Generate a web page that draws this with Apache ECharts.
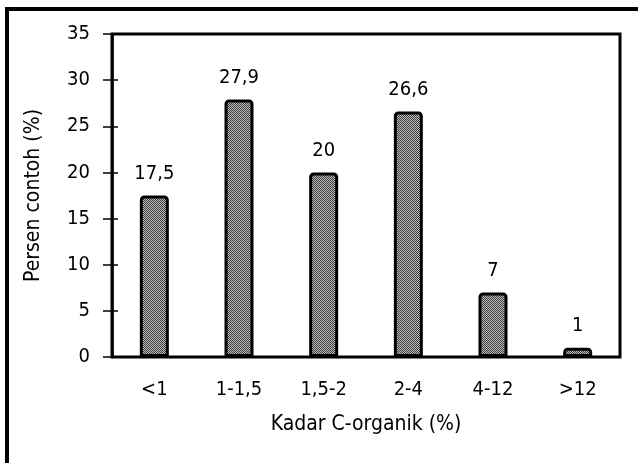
<!DOCTYPE html>
<html><head><meta charset="utf-8">
<script src="https://cdn.jsdelivr.net/npm/echarts@6/dist/echarts.min.js"></script>
<style>html,body{margin:0;padding:0;background:#fff}#c{width:638px;height:463px}</style>
</head><body><div id="c"></div>
<script>
const categories = ['<1', '1-1,5', '1,5-2', '2-4', '4-12', '>12'];
const values = [17.5, 27.9, 20, 26.6, 7, 1];
const yTicks = [0, 5, 10, 15, 20, 25, 30, 35];

const pc = document.createElement('canvas');
pc.width = 4; pc.height = 4;
const g = pc.getContext('2d');
g.fillStyle = '#bdbdbd'; g.fillRect(0,0,4,4);
g.fillStyle = '#3c3c3c';
for (let y=0;y<4;y++) for (let x=0;x<4;x++) if ((x+y)%2===0) g.fillRect(x,y,1,1);

const FONT = 'DejaVu Sans Condensed';
const FS = 20;
const chart = echarts.init(document.getElementById('c'));
chart.setOption({
  animation: false,
  textStyle: { fontFamily: FONT },
  graphic: [{ type: 'rect', shape: { x: 7, y: 9, width: 700, height: 600 }, style: { fill: 'none', stroke: '#000', lineWidth: 4 }, z: 100 }],
  grid: { left: 112, right: 18, top: 34, bottom: 106, show: true, borderColor: '#000', borderWidth: 3, backgroundColor: '#fff' },
  xAxis: {
    type: 'category', data: categories,
    axisLine: { lineStyle: { color: '#000', width: 2 } },
    axisTick: { show: false },
    axisLabel: { color: '#000', fontSize: FS, margin: 23, fontFamily: FONT },
    name: 'Kadar C-organik (%)', nameLocation: 'middle', nameGap: 57,
    nameTextStyle: { color: '#000', fontSize: 21, fontFamily: FONT }
  },
  yAxis: [{
    type: 'value', min: 0, max: 35, interval: 5,
    axisLine: { show: true, lineStyle: { color: '#000', width: 2.5 } },
    axisTick: { show: true, length: 9, lineStyle: { color: '#000', width: 1.5 } },
    splitLine: { show: false },
    axisLabel: { color: '#000', fontSize: FS, margin: 22, fontFamily: FONT, formatter: v => yTicks.includes(v) ? String(v) : '' },
    name: 'Persen contoh (%)', nameLocation: 'middle', nameGap: 68,
    nameTextStyle: { color: '#000', fontSize: 21, fontFamily: FONT }
  }, {
    type: 'value', min: 0, max: 35, interval: 5, position: 'left',
    axisLine: { show: false },
    axisTick: { show: true, inside: true, length: 6, lineStyle: { color: '#000', width: 1.5 } },
    axisLabel: { show: false }, splitLine: { show: false }
  }],
  series: [{
    type: 'bar', data: values, barWidth: 29, yAxisIndex: 0,
    itemStyle: { color: { image: pc, repeat: 'repeat' }, borderColor: '#000', borderWidth: 3, borderRadius: [3,3,0,0] },
    label: { show: true, position: 'top', distance: 12, color: '#000', fontSize: FS, fontFamily: FONT,
      formatter: p => String(p.value).replace('.', ',') }
  }]
});
</script></body></html>
